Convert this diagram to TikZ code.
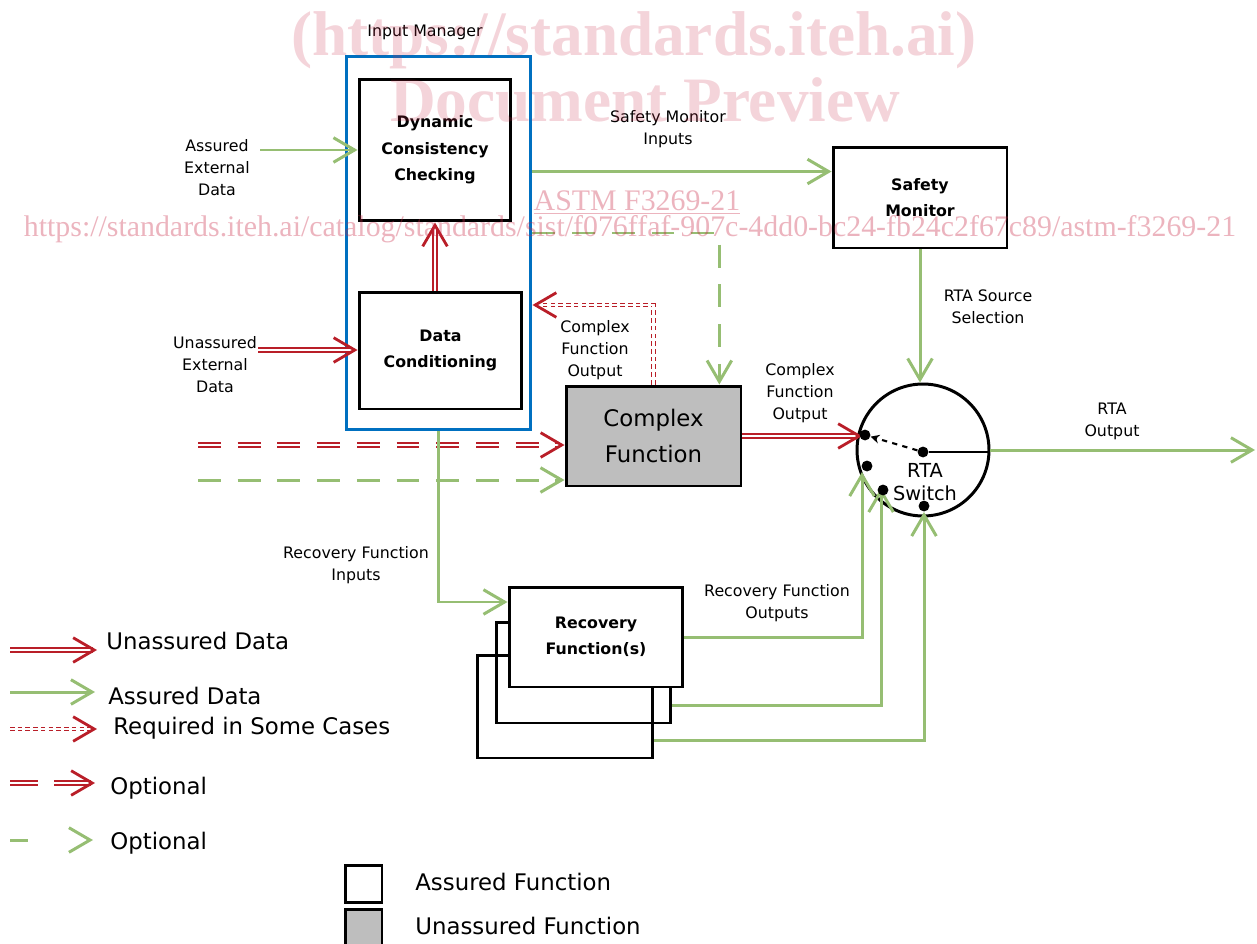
\documentclass[tikz,border=0pt]{standalone}
\usepackage{fontspec}
\setmainfont{DejaVu Sans}
\newfontfamily\wmfont{Liberation Serif}
\usepackage{xcolor}
\usetikzlibrary{arrows.meta, positioning, calc}
\definecolor{asgreen}{RGB}{150,190,115}
\definecolor{unred}{RGB}{185,30,40}
\definecolor{imblue}{RGB}{0,112,192}
\definecolor{cfgray}{RGB}{190,190,190}
\definecolor{wmred}{RGB}{200,40,70}

\begin{document}
\begin{tikzpicture}[x=0.02cm, y=-0.02cm,
  fbox/.style={rectangle, draw, line width=1.7pt, fill=white, font=\fontsize{9}{15}\selectfont\bfseries, align=center, inner sep=1pt},
  lbl/.style={font=\fontsize{9}{12.5}\selectfont, align=center, inner sep=0pt},
  leg/.style={font=\fontsize{13}{15}\selectfont, anchor=west, inner sep=0pt},
  dot/.style={circle, fill, inner sep=0pt, minimum size=6.2pt},
  gline/.style={draw=asgreen, line width=1.7pt, -{Straight Barb[length=12pt, width=14pt]}},
  rline/.style={draw=unred, line width=1pt, double=white, double distance=1.1pt, -{Straight Barb[length=12pt, width=14pt, line width=1.6pt]}},
  gopt/.style={gline, dash pattern=on 13pt off 9.6pt},
  ropt/.style={rline, dash pattern=on 13pt off 9.6pt},
  rreq/.style={draw=unred, line width=0.8pt, double=white, double distance=1.2pt, dash pattern=on 2.6pt off 1.8pt, -{Straight Barb[length=12pt, width=14pt, line width=1.6pt]}},
  wm/.style={text=wmred, inner sep=0pt}
]
\useasboundingbox (0,0) rectangle (1257,943);

% boxes
\node[draw=imblue, line width=1.7pt, minimum width=3.7cm, minimum height=7.48cm] (im) at (438.5,243) {};
\node[lbl] (imlbl) at (425,32) {Input Manager};
\node[fbox, minimum width=3.04cm, minimum height=2.84cm] (dcc) at (435,150) {Dynamic\\Consistency\\Checking};
\node[fbox, minimum width=3.26cm, minimum height=2.34cm] (dc) at (440.5,350.5) {Data\\Conditioning};
\node[fbox, minimum width=3.48cm, minimum height=2.02cm] (sm) at (920,197.5) {Safety\\Monitor};
\node[fbox, fill=cfgray, font=\fontsize{13}{20}\selectfont, minimum width=3.5cm, minimum height=2cm] (cf) at (653.5,436) {Complex\\Function};
\node[draw, circle, line width=1.7pt, minimum size=2.64cm, inner sep=0pt] (sw) at (923,450) {};
\node[fbox, fill=none, minimum width=3.52cm, minimum height=2.06cm] (rf3) at (565,706.5) {};
\node[fbox, fill=none, minimum width=3.5cm, minimum height=2.02cm] (rf2) at (583.5,672.5) {};
\node[fbox, minimum width=3.48cm, minimum height=2cm] (rf1) at (596,637) {Recovery\\Function(s)};

% labels
\node[lbl] (aelbl) at (217,168) {Assured\\External\\Data};
\node[lbl] (uelbl) at (215,365) {Unassured\\External\\Data};
\node[lbl] (smilbl) at (668,129) {Safety Monitor\\Inputs};
\node[lbl] (cfolbl) at (595,350) {Complex\\Function\\Output};
\node[lbl] (swilbl) at (800,393) {Complex\\Function\\Output};
\node[lbl] (rsslbl) at (988,307) {RTA Source\\Selection};
\node[lbl] (rolbl) at (1112,421) {RTA\\Output};
\node[lbl] (rfilbl) at (356,565) {Recovery Function\\Inputs};
\node[lbl] (rfolbl) at (777,603) {Recovery Function\\Outputs};

% connector ends
\coordinate (aein) at (260,150);
\coordinate (uein) at (258,350);
\coordinate (roptin) at (198,445);
\coordinate (goptin) at (198,480);
\coordinate (rtaout) at (1255,450);
\coordinate (smin) at ($(sm.north west)!0.25!(sm.south west)$);
\coordinate (cfin) at ($(cf.north west)!0.87!(cf.north east)$);
\coordinate (rfin) at ($(rf1.north west)!0.16!(rf1.south west)$);
\coordinate (rf2o) at ($(rf2.north east)!0.82!(rf2.south east)$);
\coordinate (rf3o) at ($(rf3.north east)!0.825!(rf3.south east)$);
\coordinate (swin1) at (862,436);
\coordinate (swin2) at (862,472);
\coordinate (swin3) at (881,488);
\coordinate (swin4) at (924,512);

\draw[gline] (aein) -- (dcc.west);
\draw[rline] (uein) -- (dc.west |- uein);
\draw[rline] (dc.north -| dcc.south) -- (dcc.south);
\draw[gline] (im.east |- smin) -- (smin);
\draw[gopt] (im.east |- 0,233) -| (cfin);
\draw[rreq] (cf.north) |- (im.east |- 0,305);
\draw[ropt] (roptin) -- (cf.west |- roptin);
\draw[gopt] (goptin) -- (cf.west |- goptin);
\draw[rline] (cf.east) -- (swin1);
\draw[gline] (sm.south) -- (sm.south |- sw.north);
\draw[gline] (sw.east) -- (rtaout);
\draw[gline] (im.south) |- (rfin);
\draw[gline] (rf1.east) -| (swin2);
\draw[gline] (rf2o) -| (swin3);
\draw[gline] (rf3o) -| (swin4);

% switch
\node[font=\fontsize{11}{13}\selectfont, align=center, inner sep=0pt] (swtxt) at (925,482) {RTA\\Switch};
\node[dot] (dcen) at (923,452) {};
\node[dot] (d1) at (865,435) {};
\node[dot] (d2) at (867,466) {};
\node[dot] (d3) at (883,490) {};
\node[dot] (d4) at (924,506) {};
\draw[line width=1.2pt] (dcen) -- (sw.east |- dcen);
\draw[dashed, line width=1.2pt, -{Stealth[length=5pt, width=5pt]}] (dcen) -- (d1);

% legend
\coordinate (l1a) at (10,650); \coordinate (l1b) at (97,650);
\coordinate (l2a) at (10,692); \coordinate (l2b) at (95,692);
\coordinate (l3a) at (10,729); \coordinate (l3b) at (97,729);
\coordinate (l4a) at (10,783); \coordinate (l4b) at (95,783);
\coordinate (l5a) at (10,840); \coordinate (l5b) at (93,840);
\draw[rline] (l1a) -- (l1b);
\draw[gline] (l2a) -- (l2b);
\draw[rreq] (l3a) -- (l3b);
\draw[rline, dash pattern=on 16pt off 9pt on 30pt off 9pt] (l4a) -- (l4b);
\draw[gline, dash pattern=on 10pt off 40pt] (l5a) -- (l5b);
\node[leg] (l1) at (106,641) {Unassured Data};
\node[leg] (l2) at (108,696) {Assured Data};
\node[leg] (l3) at (113,728) {Required in Some Cases};
\node[leg] (l4) at (110,788) {Optional};
\node[leg] (l5) at (110,843) {Optional};
\node[draw, line width=1.7pt, fill=white, minimum size=0.74cm] (lga) at (363.5,884) {};
\node[draw, line width=1.7pt, fill=cfgray, minimum size=0.74cm] (lgu) at (363.5,928) {};
\node[leg] (lgatxt) at (415,882) {Assured Function};
\node[leg] (lgutxt) at (415,926) {Unassured Function};

% watermark
\node[wm, text opacity=0.2, font=\wmfont\fontsize{36}{36}\selectfont\bfseries] (wm1) at (634,40) {(https://standards.iteh.ai)};
\node[wm, text opacity=0.2, font=\wmfont\fontsize{36}{36}\selectfont\bfseries] (wm2) at (645,100) {Document Preview};
\node[wm, text opacity=0.35, font=\wmfont\fontsize{17}{17}\selectfont] (wm3) at (637,203) {\underline{ASTM F3269-21}};
\node[wm, text opacity=0.35, font=\wmfont\fontsize{17}{17}\selectfont] (wm4) at (630,229) {https://standards.iteh.ai/catalog/standards/sist/f076ffaf-907c-4dd0-bc24-fb24c2f67c89/astm-f3269-21};
\end{tikzpicture}
\end{document}
